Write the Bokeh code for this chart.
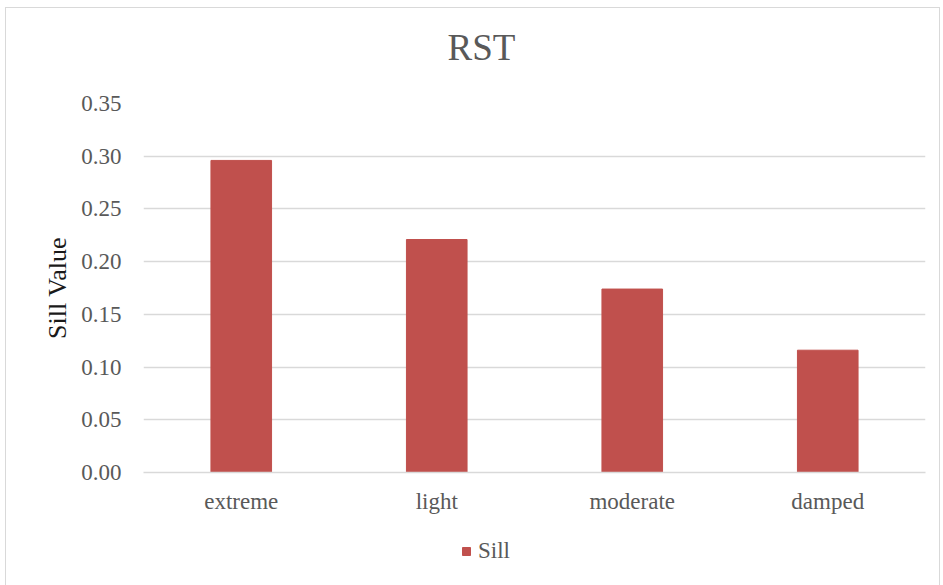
from bokeh.plotting import figure
from bokeh.layouts import column
from bokeh.models import (ColumnDataSource, Legend, LegendItem, FixedTicker,
                          NumeralTickFormatter, Title)
from bokeh.embed import file_html
from bokeh.resources import INLINE

# Sill values per RST class
categories = ["extreme", "light", "moderate", "damped"]
sill = [0.296, 0.221, 0.174, 0.116]
y_ticks = [0.0, 0.05, 0.10, 0.15, 0.20, 0.25, 0.30, 0.35]
series_name = "Sill"

FONT = "Liberation Serif"
GRAY = "#595959"
BAR = "#C0504D"
EDGE = "#D9D9D9"

src = ColumnDataSource(dict(cat=categories, sill=sill))

p = figure(
    x_range=categories, y_range=(0, 0.35),
    frame_width=782, frame_height=369,
    min_border_left=137, min_border_right=14,
    min_border_top=95, min_border_bottom=58,
    output_backend="svg", toolbar_location=None,
    background_fill_color="white", border_fill_color="white",
)
p.title = Title(text="RST", align="left", offset=304, standoff=0,
                text_font=FONT, text_font_size="37px", text_color=GRAY,
                text_font_style="normal")
# blank spacer between the title and the plot area
p.add_layout(Title(text=" ", text_font_size="1px", standoff=33), "above")

p.vbar(x="cat", top="sill", width=0.31, source=src,
       fill_color=BAR, line_color=BAR)

# axes
p.yaxis.ticker = FixedTicker(ticks=y_ticks)
p.yaxis.formatter = NumeralTickFormatter(format="0.00")
p.yaxis.axis_line_color = None
p.yaxis.major_tick_line_color = None
p.yaxis.minor_tick_line_color = None
p.yaxis.major_label_text_font = FONT
p.yaxis.major_label_text_font_size = "23px"
p.yaxis.major_label_text_color = GRAY
p.yaxis.major_label_standoff = 16
p.yaxis.axis_label = "Sill Value"
p.yaxis.axis_label_text_font = FONT
p.yaxis.axis_label_text_font_size = "26px"
p.yaxis.axis_label_text_font_style = "normal"
p.yaxis.axis_label_text_color = "#1a1a1a"
p.yaxis.axis_label_standoff = 6

p.xaxis.axis_line_color = EDGE
p.xaxis.axis_line_width = 1.5
p.xaxis.major_tick_line_color = None
p.xaxis.minor_tick_line_color = None
p.xaxis.major_label_text_font = FONT
p.xaxis.major_label_text_font_size = "23px"
p.xaxis.major_label_text_color = GRAY
p.xaxis.major_label_standoff = 10

p.xgrid.grid_line_color = None
p.ygrid.grid_line_color = EDGE
p.ygrid.grid_line_width = 1.5
p.outline_line_color = None

# legend strip under the chart: the series is plotted again but kept
# outside this strip's visible value range, so only its legend entry shows
leg = figure(
    x_range=categories, y_range=(1, 2),
    frame_width=933, frame_height=55, min_border=0,
    x_axis_location=None, y_axis_location=None,
    output_backend="svg", toolbar_location=None,
    background_fill_color="white", border_fill_color="white",
)
leg.grid.visible = False
leg.outline_line_color = None
swatch = leg.vbar(x="cat", top="sill", width=0.31, source=src,
                  fill_color=BAR, line_color=BAR)
legend = Legend(items=[LegendItem(label=series_name, renderers=[swatch])],
                orientation="horizontal", location=(455, 21),
                label_text_font=FONT, label_text_font_size="23px",
                label_text_color=GRAY, glyph_width=10, glyph_height=10,
                label_standoff=7, border_line_color=None,
                background_fill_alpha=0, margin=0, padding=0)
leg.add_layout(legend, "center")

chart = column(p, leg, spacing=0,
               styles={"margin-left": "5px", "margin-top": "7px",
                       "border": f"1px solid {EDGE}",
                       "border-bottom": "none"})

open("out.html", "w").write(file_html(chart, INLINE))
